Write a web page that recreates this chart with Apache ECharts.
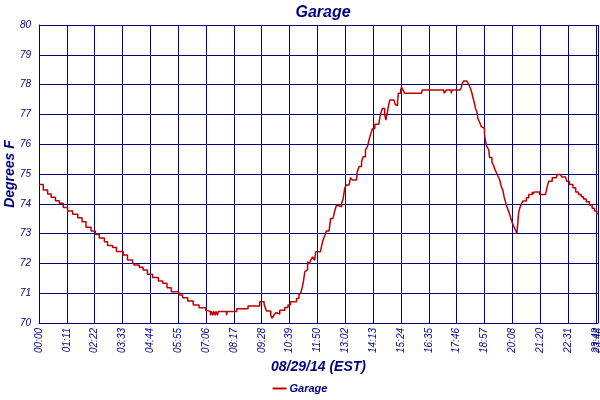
<!DOCTYPE html>
<html><head><meta charset="utf-8">
<script src="https://cdn.jsdelivr.net/npm/echarts@6/dist/echarts.min.js"></script>
<style>html,body{margin:0;padding:0;background:#fff}#c{width:600px;height:400px}</style>
</head><body><div id="c"></div>
<script>
// minutes since 00:00 on 08/29/14
const minutes = [0,11,22,31,42,52,62,73,86,99,110,120,133,144,154,167,175,188,198,215,226,239,243,256,266,277,290,305,316,327,338,357,367,380,394,409,426,430,438,440,444,446,450,452,456,458,479,481,505,513,534,547,564,575,579,581,592,595,600,605,610,615,628,636,642,658,664,669,673,676,679,683,686,690,694,699,704,707,719,722,726,730,734,741,745,751,755,760,765,773,777,781,785,792,796,800,811,813,818,824,828,834,839,843,847,852,858,868,872,877,883,886,889,892,896,907,910,913,916,918,924,926,930,934,977,979,1034,1035,1040,1041,1053,1055,1075,1079,1081,1085,1093,1098,1102,1106,1109,1113,1115,1119,1121,1126,1130,1134,1138,1141,1144,1149,1151,1157,1161,1164,1168,1172,1177,1181,1185,1188,1191,1195,1200,1204,1208,1212,1217,1221,1225,1228,1232,1236,1245,1251,1260,1262,1266,1279,1294,1297,1302,1311,1321,1324,1332,1336,1345,1348,1355,1364,1371,1378,1385,1391,1398,1406,1413,1419,1425,1428];
const temps = [74.65,74.46,74.33,74.22,74.10,74.02,73.88,73.76,73.65,73.53,73.40,73.21,73.09,72.98,72.85,72.73,72.60,72.53,72.40,72.28,72.11,72.04,71.95,71.87,71.78,71.64,71.53,71.41,71.33,71.18,71.05,70.94,70.85,70.74,70.60,70.51,70.43,70.39,70.26,70.39,70.26,70.39,70.26,70.39,70.26,70.39,70.26,70.39,70.48,70.48,70.57,70.57,70.71,70.63,70.48,70.40,70.26,70.16,70.26,70.35,70.30,70.43,70.52,70.60,70.71,70.82,70.94,71.03,71.22,71.44,71.72,71.78,72.06,71.98,72.11,72.22,72.10,72.39,72.40,72.60,72.79,72.93,73.09,73.09,73.51,73.57,73.74,73.96,73.90,74.00,74.18,74.52,74.63,74.65,74.88,74.80,74.80,75.08,75.25,75.41,75.58,75.81,75.92,76.14,76.33,76.53,76.67,76.67,77.00,77.20,77.00,76.81,77.00,77.24,77.48,77.48,77.33,77.30,77.45,77.71,77.82,77.91,77.82,77.71,77.71,77.82,77.82,77.71,77.71,77.82,77.71,77.82,77.82,77.90,78.04,78.12,78.12,78.00,77.88,77.71,77.54,77.34,77.20,77.07,76.87,76.72,76.59,76.53,76.33,76.08,75.92,75.81,75.55,75.39,75.30,75.17,75.06,74.94,74.80,74.57,74.46,74.24,74.09,73.92,73.73,73.57,73.40,73.27,73.12,73.01,73.68,73.85,73.98,74.09,74.20,74.31,74.40,74.33,74.40,74.31,74.31,74.51,74.76,74.87,74.90,74.98,74.98,74.90,74.85,74.76,74.65,74.54,74.40,74.31,74.24,74.16,74.07,73.96,73.85,73.76,73.68,73.65];
const tickLabels = ['00:00','01:11','02:22','03:33','04:44','05:55','07:06','08:17','09:28','10:39','11:50','13:02','14:13','15:24','16:35','17:46','18:57','20:08','21:20','22:31','23:42'];
const endLabel = '23:48';
const yMin = 70, yMax = 80;
const xMax = 1428, tickStep = 71.125;
const seriesName = 'Garage';
const titleText = 'Garage';
const xName = '08/29/14 (EST)';
const yName = 'Degrees F';

const labelValues = tickLabels.map((_, i) => i * tickStep);
const navy = '#000080';
const FONT = 'Liberation Sans';
const labelStyle = {color: navy, fontFamily: FONT, fontStyle: 'italic', fontSize: 10};
const chart = echarts.init(document.getElementById('c'));
chart.setOption({
  animation: false,
  backgroundColor: '#fff',
  title: {
    text: titleText, left: 318, top: 0, textAlign: 'center',
    textStyle: {color: navy, fontFamily: FONT, fontStyle: 'italic', fontWeight: 'bold', fontSize: 16}
  },
  legend: {
    bottom: 1, left: 'center', data: [{name: seriesName, icon: 'rect'}],
    itemWidth: 14, itemHeight: 2, itemGap: 4,
    textStyle: {color: navy, fontFamily: FONT, fontStyle: 'italic', fontWeight: 'bold', fontSize: 11, padding: [0, 0, 0, -2]}
  },
  grid: {left: 39, right: 2, top: 25, bottom: 77, containLabel: false, outerBoundsMode: 'none'},
  xAxis: [{
    type: 'value', min: 0, max: xMax, interval: tickStep,
    name: xName, nameLocation: 'middle', nameGap: 37, nameMoveOverlap: false,
    nameTextStyle: {color: navy, fontFamily: FONT, fontStyle: 'italic', fontWeight: 'bold', fontSize: 14},
    axisLine: {show: true, lineStyle: {color: navy, width: 1}},
    axisTick: {show: false},
    axisLabel: Object.assign({
      rotate: 90, margin: 5, showMaxLabel: true, showMinLabel: true, hideOverlap: false,
      customValues: labelValues,
      formatter: function (v) { return tickLabels[Math.round(v / tickStep)]; }
    }, labelStyle),
    splitLine: {show: true, lineStyle: {color: navy, width: 1}}
  }, {
    type: 'value', min: 0, max: xMax, position: 'bottom', gridIndex: 0,
    axisLine: {show: false}, axisTick: {show: false}, splitLine: {show: false},
    axisLabel: Object.assign({
      rotate: 90, margin: 5, showMaxLabel: true, hideOverlap: false,
      customValues: [xMax],
      formatter: function () { return endLabel; }
    }, labelStyle)
  }],
  yAxis: {
    type: 'value', min: yMin, max: yMax, interval: 1,
    name: yName, nameLocation: 'middle', nameGap: 22, nameMoveOverlap: false,
    nameTextStyle: {color: navy, fontFamily: FONT, fontStyle: 'italic', fontWeight: 'bold', fontSize: 14},
    axisLine: {show: true, lineStyle: {color: navy, width: 1}},
    axisTick: {show: false},
    axisLabel: {margin: 8, color: navy, fontFamily: FONT, fontStyle: 'italic', fontSize: 10},
    splitLine: {show: true, lineStyle: {color: navy, width: 1}}
  },
  series: [{
    name: seriesName, type: 'line', step: 'end', symbol: 'none', xAxisIndex: 0,
    lineStyle: {color: '#c00000', width: 1.5}, itemStyle: {color: '#c00000'},
    data: minutes.map((m, i) => [m, temps[i]])
  }]
});
</script></body></html>
